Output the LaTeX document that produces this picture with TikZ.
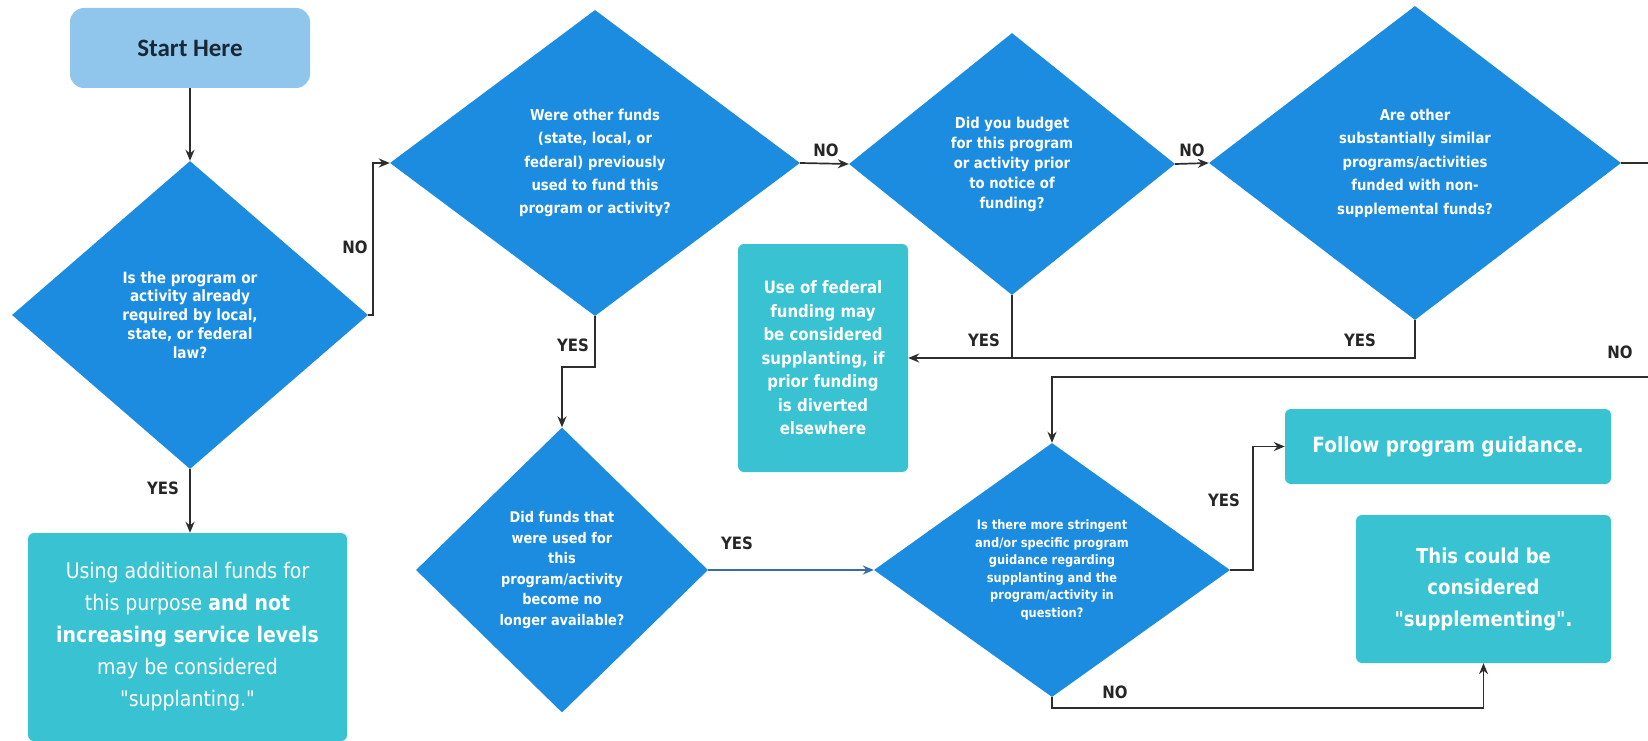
\documentclass[tikz,border=0pt]{standalone}
\usepackage{fontspec}
\setmainfont{DejaVu Sans}
\newfontfamily\dfont[FakeStretch=0.88]{DejaVu Sans}
\newfontfamily\cfont{Carlito}
\usetikzlibrary{shapes.geometric,arrows.meta}
\definecolor{dblue}{RGB}{28,140,224}
\definecolor{boxteal}{RGB}{56,194,210}
\definecolor{sblue}{RGB}{144,197,236}
\definecolor{lnc}{RGB}{45,45,45}
\definecolor{bluln}{RGB}{55,110,170}
\tikzset{
  dia/.style={shape=diamond, fill=dblue, draw=none, inner sep=0pt, text=white, align=center},
  outbox/.style={rectangle, rounded corners=6pt, fill=boxteal, text=white, align=center, inner sep=0pt},
  lab/.style={font=\dfont\bfseries\fontsize{17}{17}\selectfont, text=black!85, inner sep=0pt},
  arr/.style={draw=lnc, line width=1.7pt, -{Stealth[length=11pt,width=9pt]}},
  seg/.style={draw=lnc, line width=1.7pt}
}
\begin{document}
\begin{tikzpicture}[x=1pt,y=-1pt]
\useasboundingbox (0,0) rectangle (1648,741);

% start
\node[rectangle, rounded corners=14pt, fill=sblue, minimum width=240, minimum height=80, inner sep=0pt,
      font=\cfont\bfseries\fontsize{25}{25}\selectfont, text={rgb,255:red,25;green,40;blue,55}] (S) at (190,48) {Start Here};

% diamonds
\node[dia, minimum width=356, minimum height=308, aspect=1.16, font=\dfont\bfseries\fontsize{15.5}{18.8}\selectfont] (D1) at (190,315)
  {Is the program or\\activity already\\required by local,\\state, or federal\\law?};
\node[dia, minimum width=410, minimum height=306, aspect=1.34, font=\dfont\bfseries\fontsize{15}{23.3}\selectfont] (D2) at (595,163)
  {Were other funds\\(state, local, or\\federal) previously\\used to fund this\\program or activity?};
\node[dia, minimum width=326, minimum height=262, aspect=1.24, font=\dfont\bfseries\fontsize{15}{20}\selectfont] (D3) at (1012,164)
  {Did you budget\\for this program\\or activity prior\\to notice of\\funding?};
\node[dia, minimum width=412, minimum height=314, aspect=1.32, font=\dfont\bfseries\fontsize{15}{23.5}\selectfont] (D4) at (1415,163)
  {Are other\\substantially similar\\programs/activities\\funded with non-\\supplemental funds?};
\node[dia, minimum width=356, minimum height=254, aspect=1.4, font=\dfont\bfseries\fontsize{13}{17.5}\selectfont] (D5) at (1052,570)
  {Is there more stringent\\and/or specific program\\guidance regarding\\supplanting and the\\program/activity in\\question?};
\node[dia, minimum width=292, minimum height=285, aspect=1.03, font=\dfont\bfseries\fontsize{14.7}{20.5}\selectfont] (D6) at (562,570)
  {Did funds that\\were used for\\this\\program/activity\\become no\\longer available?};

% outcome boxes
\node[outbox, minimum width=319, minimum height=208, font=\dfont\fontsize{21.5}{32}\selectfont] (A) at (187.5,637)
  {Using additional funds for\\this purpose {\bfseries and not}\\{\bfseries increasing service levels}\\may be considered\\"supplanting."};
\node[outbox, minimum width=170, minimum height=228, font=\dfont\bfseries\fontsize{17}{23.5}\selectfont] (B) at (823,358)
  {Use of federal\\funding may\\be considered\\supplanting, if\\prior funding\\is diverted\\elsewhere};
\node[outbox, minimum width=326, minimum height=75, font=\dfont\bfseries\fontsize{21}{21}\selectfont] (C) at (1448,446.5)
  {Follow program guidance.};
\node[outbox, minimum width=255, minimum height=148, font=\dfont\bfseries\fontsize{20.5}{31.5}\selectfont] (D) at (1483.5,589)
  {This could be\\considered\\"supplementing".};

% connectors
\coordinate (yj) at (0,358);
\coordinate (rc) at (1652,377);
\draw[arr] (S.south) -- (D1.north);
\draw[arr] (D1.south) -- (D1.south |- A.north);
\draw[arr] (D1.east) -- ++(5,0) |- (D2.west);
\draw[arr] (D2.east) -- (D3.west);
\draw[arr] (D3.east) -- (D4.west);
\draw[seg] (D4.south) |- (D3.south |- yj);
\draw[arr] (D3.south) |- (B.east);
\draw[arr] (D2.south) -- ++(0,51) -| (D6.north);
\draw[arr, draw=bluln] (D6.east) -- (D5.west);
\draw[arr] (D4.east) -| (rc) -| (D5.north);
\draw[arr] (D5.east) -- ++(23,0) |- (C.west);
\draw[arr] (D5.south) -- ++(0,11) -| (D.south);

% labels
\node[lab] (l1) at (355,247) {NO};
\node[lab] (l2) at (163,488) {YES};
\node[lab] (l3) at (573,345) {YES};
\node[lab] (l4) at (826,150) {NO};
\node[lab] (l5) at (1192,150) {NO};
\node[lab] (l6) at (984,340) {YES};
\node[lab] (l7) at (1360,340) {YES};
\node[lab] (l8) at (1620,352) {NO};
\node[lab] (l9) at (737,543) {YES};
\node[lab] (l10) at (1224,500) {YES};
\node[lab] (l11) at (1115,692) {NO};
\end{tikzpicture}
\end{document}
